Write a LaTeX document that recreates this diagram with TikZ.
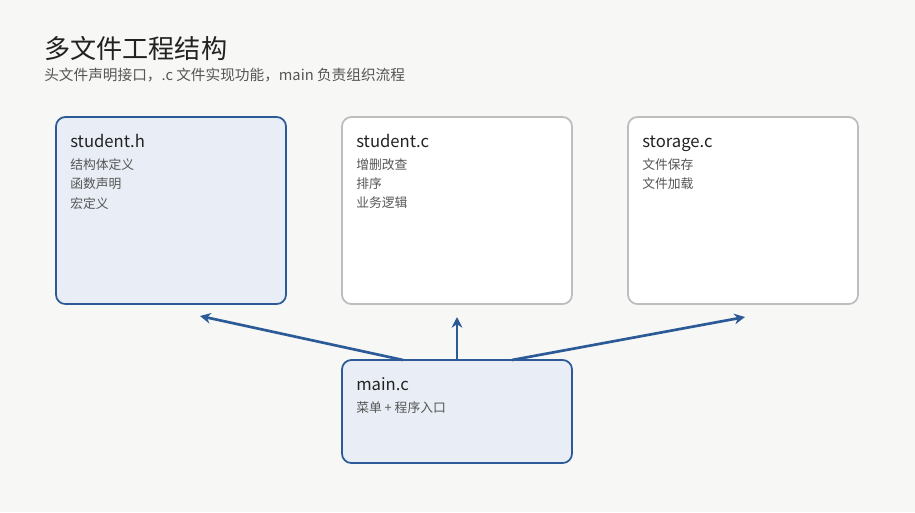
\documentclass[tikz,border=0pt]{standalone}
\usepackage{fontspec}
\setmainfont{Noto Sans CJK SC}
\usetikzlibrary{arrows.meta}
\definecolor{bg}{HTML}{F7F7F5}
\definecolor{bluefill}{HTML}{E9EEF6}
\definecolor{blueline}{HTML}{2B5A97}
\definecolor{greyline}{HTML}{BDBDBD}
\definecolor{txt}{HTML}{222222}
\definecolor{sub}{HTML}{555555}
\begin{document}
\begin{tikzpicture}[x=0.75pt,y=-0.75pt,
 box/.style={draw=greyline,fill=white,line width=1.3pt,rounded corners=7pt},
 bbox/.style={draw=blueline,fill=bluefill,line width=1.3pt,rounded corners=7pt},
 head/.style={anchor=base west,text=txt,font=\fontsize{12.5}{14}\selectfont,inner sep=0},
 item/.style={anchor=north west,text=sub,font=\fontsize{9.6}{14.6}\selectfont,inner sep=0,align=left},
 arr/.style={draw=blueline,line width=2pt,-{Stealth[length=8pt,width=8pt]}}]
\fill[bg] (0,0) rectangle (915,512);
\useasboundingbox (0,0) rectangle (915,512);
\node[anchor=base west,inner sep=0,text=txt,font=\fontsize{19.6}{22}\selectfont] (title) at (44,58) {多文件工程结构};
\node[anchor=base west,inner sep=0,text=sub,font=\fontsize{11}{13}\selectfont] (subt) at (44,80) {头文件声明接口，.c 文件实现功能，main 负责组织流程};
\draw[bbox] (56,117) rectangle (286,304);
\coordinate (h) at (200,316);
\node[head] (ht) at (70,147) {student.h};
\node[item] (hi) at (70,158) {结构体定义\\函数声明\\宏定义};
\draw[box] (342,117) rectangle (572,304);
\coordinate (c) at (457,317);
\node[head] (ct) at (356,147) {student.c};
\node[item] (ci) at (356,158) {增删改查\\排序\\业务逻辑};
\draw[box] (628,117) rectangle (858,304);
\coordinate (s) at (745,317);
\node[head] (st) at (642,147) {storage.c};
\node[item] (si) at (642,158) {文件保存\\文件加载};
\draw[bbox] (342,360) rectangle (572,463);
\node[head] (mt) at (356,390) {main.c};
\node[item] (mi) at (356,401) {菜单 + 程序入口};
\coordinate (m1) at (403,360);
\coordinate (m2) at (457,360);
\coordinate (m3) at (512,360);
\draw[arr] (m1) -- (h);
\draw[arr] (m2) -- (c);
\draw[arr] (m3) -- (s);
\end{tikzpicture}
\end{document}
